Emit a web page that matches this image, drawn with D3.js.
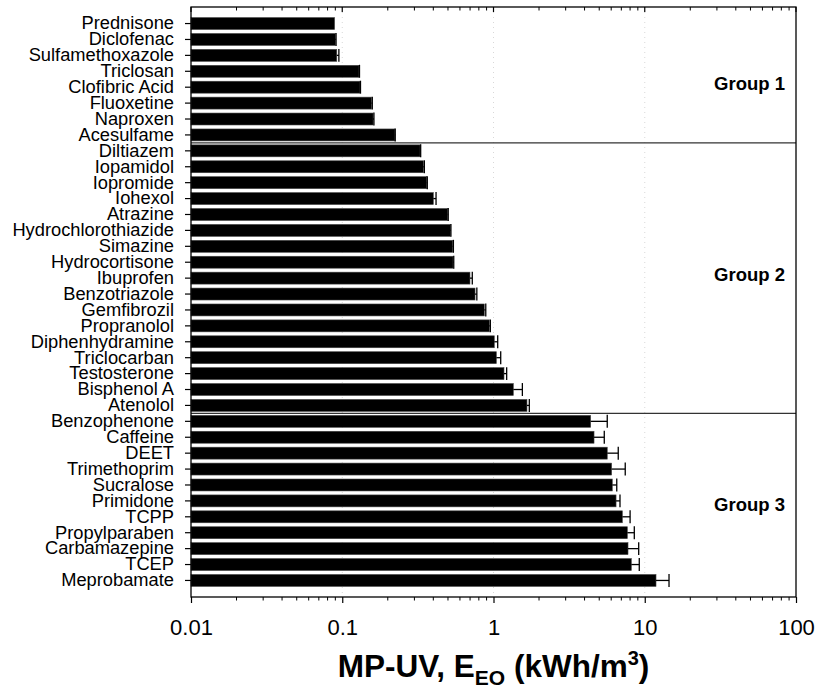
<!DOCTYPE html>
<html>
<head>
<meta charset="utf-8">
<script src="https://cdn.jsdelivr.net/npm/d3@7/dist/d3.min.js"></script>
<style>
  html, body { margin: 0; padding: 0; background: #fff; }
  svg { display: block; }
  text { font-family: Arial, "Liberation Sans", sans-serif; fill: #000; }
</style>
</head>
<body>
<svg id="chart" width="819" height="699"></svg>
<script>
// Micropollutants, ordered from lowest to highest electrical energy per order
const compounds = [
  "Prednisone", "Diclofenac", "Sulfamethoxazole", "Triclosan", "Clofibric Acid",
  "Fluoxetine", "Naproxen", "Acesulfame",
  "Diltiazem", "Iopamidol", "Iopromide", "Iohexol", "Atrazine", "Hydrochlorothiazide",
  "Simazine", "Hydrocortisone", "Ibuprofen", "Benzotriazole", "Gemfibrozil",
  "Propranolol", "Diphenhydramine", "Triclocarban", "Testosterone", "Bisphenol A", "Atenolol",
  "Benzophenone", "Caffeine", "DEET", "Trimethoprim", "Sucralose", "Primidone",
  "TCPP", "Propylparaben", "Carbamazepine", "TCEP", "Meprobamate"
];

// E_EO (kWh/m3) for MP-UV
const eeoValues = [
  0.089, 0.090, 0.092, 0.129, 0.131, 0.156, 0.160, 0.223,
  0.327, 0.344, 0.362, 0.400, 0.498, 0.518, 0.537, 0.540, 0.699, 0.755, 0.869,
  0.938, 1.012, 1.044, 1.173, 1.352, 1.664,
  4.39, 4.62, 5.65, 6.04, 6.10, 6.46, 7.11, 7.67, 7.75, 8.15, 11.87
];

// Standard deviation (upper error)
const eeoErrors = [
  0.0, 0.001, 0.003, 0.001, 0.001, 0.002, 0.002, 0.001,
  0.003, 0.005, 0.003, 0.017, 0.004, 0.005, 0.006, 0.006, 0.025, 0.021, 0.02,
  0.015, 0.054, 0.072, 0.049, 0.20, 0.061,
  1.26, 0.78, 1.03, 1.39, 0.43, 0.40, 0.89, 0.86, 1.37, 1.05, 2.6
];

// Groups: label, first and last compound in each
const groupLabels = ["Group 1", "Group 2", "Group 3"];
const groupFirst = ["Prednisone", "Diltiazem", "Benzophenone"];
const groupLast = ["Acesulfame", "Atenolol", "Meprobamate"];

const xTickValues = [0.01, 0.1, 1, 10, 100];
const xTickLabels = ["0.01", "0.1", "1", "10", "100"];

const rows = compounds.map((c, i) => ({ name: c, value: eeoValues[i], err: eeoErrors[i] }));

const margin = { left: 191, right: 23, top: 7, bottom: 102 };
const width = 819, height = 699;
const innerW = width - margin.left - margin.right;
const innerH = height - margin.top - margin.bottom;

const svg = d3.select("#chart");
const g = svg.append("g").attr("transform", `translate(${margin.left},${margin.top})`);

const x = d3.scaleLog().domain([0.01, 100]).range([0, innerW]);
const y = d3.scaleBand().domain(compounds).range([0, innerH])
  .paddingInner(0.25).paddingOuter(0.665);

// dotted gridlines at decades
g.append("g").selectAll("line")
  .data([0.1, 1, 10])
  .join("line")
  .attr("x1", d => x(d)).attr("x2", d => x(d))
  .attr("y1", 0).attr("y2", innerH)
  .attr("stroke", "#d8d8d8").attr("stroke-width", 1)
  .attr("stroke-dasharray", "1,4");

// bars
g.append("g").selectAll("rect")
  .data(rows)
  .join("rect")
  .attr("x", 0)
  .attr("y", d => y(d.name))
  .attr("width", d => x(d.value))
  .attr("height", y.bandwidth())
  .attr("fill", "#000")
  .attr("stroke", "#444")
  .attr("stroke-width", 0.6);

// error bars (upper side with cap)
const eb = g.append("g").attr("stroke", "#000").attr("stroke-width", 1.3);
rows.filter(d => d.err > 0).forEach(d => {
  const yc = y(d.name) + y.bandwidth() / 2;
  const x0 = x(d.value), x1 = x(d.value + d.err);
  eb.append("line").attr("x1", x0).attr("x2", x1).attr("y1", yc).attr("y2", yc);
  eb.append("line").attr("x1", x1).attr("x2", x1)
    .attr("y1", yc - y.bandwidth() / 2 - 0.5).attr("y2", yc + y.bandwidth() / 2 + 0.5);
});

// group separators
const sepY = groupFirst.slice(1).map(c => y(c) - y.step() * y.paddingInner() / 2);
g.append("g").selectAll("line")
  .data(sepY)
  .join("line")
  .attr("x1", 0).attr("x2", innerW)
  .attr("y1", d => d).attr("y2", d => d)
  .attr("stroke", "#333").attr("stroke-width", 1.2);

// group labels
const groupY = [84, 275, 505];
g.append("g").selectAll("text")
  .data(groupLabels)
  .join("text")
  .attr("x", innerW - 11)
  .attr("y", (d, i) => groupY[i] - margin.top)
  .attr("dy", "0.35em")
  .attr("text-anchor", "end")
  .attr("font-weight", "bold")
  .attr("font-size", 18.5)
  .text(d => d);

// frame
g.append("rect")
  .attr("x", 0).attr("y", 0).attr("width", innerW).attr("height", innerH)
  .attr("fill", "none").attr("stroke", "#000").attr("stroke-width", 1.3);

// left axis with category labels
const yAxis = g.append("g")
  .call(d3.axisLeft(y).tickSize(6).tickPadding(11));
yAxis.select(".domain").remove();
yAxis.selectAll("line").attr("stroke", "#000").attr("stroke-width", 1.2);
yAxis.selectAll("text")
  .attr("font-size", 18.3)
  .attr("font-family", "Arial, 'Liberation Sans', sans-serif")
  .attr("fill", "#000");

// minor tick values (2..9 in each decade)
const minorTicks = [];
for (let e = -2; e < 2; e++) {
  for (let m = 2; m <= 9; m++) minorTicks.push(m * Math.pow(10, e));
}

// bottom axis: major ticks outward
const xAxis = g.append("g").attr("transform", `translate(0,${innerH})`)
  .call(d3.axisBottom(x).tickValues(xTickValues)
    .tickFormat((d, i) => xTickLabels[i]).tickSize(6).tickPadding(16));
xAxis.select(".domain").remove();
xAxis.selectAll("line").attr("stroke", "#000").attr("stroke-width", 1.2);
xAxis.selectAll("text")
  .attr("font-size", 22)
  .attr("font-family", "Arial, 'Liberation Sans', sans-serif")
  .attr("fill", "#000");

// bottom minor ticks
g.append("g").attr("transform", `translate(0,${innerH})`)
  .selectAll("line").data(minorTicks).join("line")
  .attr("x1", d => x(d)).attr("x2", d => x(d))
  .attr("y1", 0).attr("y2", 3.5)
  .attr("stroke", "#000").attr("stroke-width", 1);

// top ticks pointing inward
g.append("g").selectAll("line").data(xTickValues).join("line")
  .attr("x1", d => x(d)).attr("x2", d => x(d))
  .attr("y1", 0).attr("y2", 5)
  .attr("stroke", "#000").attr("stroke-width", 1.2);
g.append("g").selectAll("line").data(minorTicks).join("line")
  .attr("x1", d => x(d)).attr("x2", d => x(d))
  .attr("y1", 0).attr("y2", 3.5)
  .attr("stroke", "#000").attr("stroke-width", 1);

// axis title
const title = svg.append("text")
  .attr("x", margin.left + innerW / 2)
  .attr("y", 677)
  .attr("text-anchor", "middle")
  .attr("font-weight", "bold")
  .attr("font-size", 31.5);
title.append("tspan").text("MP-UV, E");
title.append("tspan").attr("font-size", 21).attr("dy", 8).text("EO");
title.append("tspan").attr("dy", -8).text(" (kWh/m");
title.append("tspan").attr("font-size", 20).attr("dy", -12).text("3");
title.append("tspan").attr("dy", 12).text(")");
</script>
</body>
</html>
